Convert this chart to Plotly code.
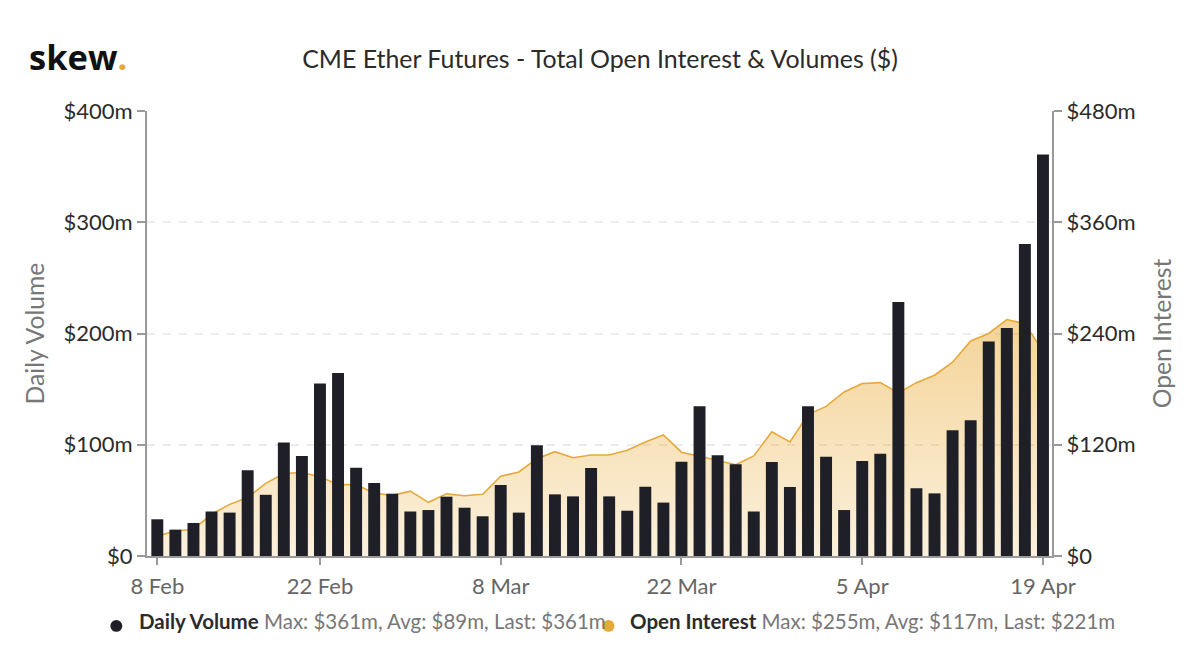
#!/usr/bin/env python3
import plotly.graph_objects as go

dates = ["8 Feb", "9 Feb", "10 Feb", "11 Feb", "12 Feb", "16 Feb", "17 Feb", "18 Feb", "19 Feb", "22 Feb",
         "23 Feb", "24 Feb", "25 Feb", "26 Feb", "1 Mar", "2 Mar", "3 Mar", "4 Mar", "5 Mar", "8 Mar",
         "9 Mar", "10 Mar", "11 Mar", "12 Mar", "15 Mar", "16 Mar", "17 Mar", "18 Mar", "19 Mar", "22 Mar",
         "23 Mar", "24 Mar", "25 Mar", "26 Mar", "29 Mar", "30 Mar", "31 Mar", "1 Apr", "2 Apr", "5 Apr",
         "6 Apr", "7 Apr", "8 Apr", "9 Apr", "12 Apr", "13 Apr", "14 Apr", "15 Apr", "16 Apr", "19 Apr"]

daily_volume = [33, 23.7, 29.7, 40, 39, 77, 55, 102, 90, 155,
                164.5, 79.4, 65.6, 56, 40, 41.3, 53.3, 43.4, 35.7, 63.8,
                39, 99.5, 55.4, 53.6, 79, 53.6, 40.7, 62.3, 48, 84.8,
                134.5, 90.5, 82.4, 40, 84.5, 62, 134.5, 89.3, 41.3, 85.4,
                92, 228.3, 61, 56.3, 113, 122, 192.7, 205, 280.5, 361]

open_interest = [21.6, 27, 28.8, 45, 55.7, 63, 78.4, 89, 90, 85.6,
                 77, 77, 67.6, 65.4, 70, 57.9, 67, 65, 66.5, 86,
                 90.6, 105, 112.5, 106, 109, 109, 114, 123, 130.5, 112,
                 107.5, 103, 98.5, 108, 134, 123, 152.5, 161.4, 177, 186,
                 187, 176, 187, 195, 209, 232, 240, 255, 250.6, 221]

x_ticks = ["8 Feb", "22 Feb", "8 Mar", "22 Mar", "5 Apr", "19 Apr"]
volume_ticks = [0, 100, 200, 300, 400]
volume_labels = ["$0", "$100m", "$200m", "$300m", "$400m"]
oi_ticks = [0, 120, 240, 360, 480]
oi_labels = ["$0", "$120m", "$240m", "$360m", "$480m"]

FONT = "Lato"
DARK = "#2B2B2B"
GREY = "#777777"
AXIS = "#999999"
ORANGE = "#E5A93A"
BAR = "#1F2027"

fig = go.Figure()

# open interest sits on the base axis so it gets drawn under the bars
fig.add_trace(go.Scatter(
    x=dates, y=open_interest, name="Open Interest", mode="lines",
    line=dict(color=ORANGE, width=1.6),
    fill="tozeroy",
    fillgradient=dict(type="vertical", colorscale=[
        [0, "rgba(232,165,40,0.16)"],
        [1, "rgba(232,165,40,0.48)"],
    ]),
    yaxis="y",
))
fig.add_trace(go.Bar(
    x=dates, y=daily_volume, name="Daily Volume",
    marker=dict(color=BAR, line=dict(width=0)),
    yaxis="y2",
))

fig.update_layout(
    width=1200, height=670,
    margin=dict(l=147, r=148, t=111, b=114, autoexpand=False),
    paper_bgcolor="white", plot_bgcolor="white",
    font=dict(family=FONT, color=DARK, size=22),
    showlegend=False,
    bargap=0.34,
    title=dict(
        text="CME Ether Futures - Total Open Interest & Volumes ($)",
        x=0.5, xanchor="center", y=0.912, yanchor="middle",
        font=dict(family=FONT, size=24.9, color=DARK),
    ),
    xaxis=dict(
        type="category", categoryorder="array", categoryarray=dates,
        range=[-0.57, 49.5],
        tickmode="array", tickvals=x_ticks, ticktext=x_ticks,
        ticks="outside", ticklen=7, tickwidth=1.5, tickcolor=AXIS,
        tickfont=dict(color="#666666", size=22),
        ticklabelstandoff=3,
        showline=True, linecolor=AXIS, linewidth=2,
        showgrid=False, zeroline=False,
    ),
    yaxis=dict(
        side="right", range=[0, 480],
        tickmode="array", tickvals=oi_ticks, ticktext=oi_labels,
        ticks="outside", ticklen=8, tickwidth=1.5, tickcolor=AXIS,
        showline=True, linecolor=AXIS, linewidth=2,
        showgrid=True, gridcolor="#EBEBEB", gridwidth=1.5, griddash="8px,8px",
        zeroline=False,
        title=dict(text="Open Interest", font=dict(color=GREY, size=24.7), standoff=19),
    ),
    yaxis2=dict(
        overlaying="y", side="left", range=[0, 400],
        tickmode="array", tickvals=volume_ticks, ticktext=volume_labels,
        ticks="outside", ticklen=8, tickwidth=1.5, tickcolor=AXIS,
        showline=True, linecolor=AXIS, linewidth=2,
        showgrid=False, zeroline=False,
        title=dict(text="Daily Volume", font=dict(color=GREY, size=24.7), standoff=12),
    ),
    annotations=[
        dict(text="<b>skew<span style='color:#E5A93A'>.</span></b>",
             xref="paper", yref="paper", x=-0.1325, y=1.122, xanchor="left", yanchor="middle",
             showarrow=False, font=dict(family="Open Sans", size=34.5, color="#111111")),
        dict(text="<b>Daily Volume</b> <span style='color:#777777'>Max: $361m, Avg: $89m, Last: $361m</span>",
             xref="paper", yref="paper", x=-0.0105, y=-0.147, xanchor="left", yanchor="middle",
             showarrow=False, font=dict(family=FONT, size=20.5, color=DARK)),
        dict(text="<b>Open Interest</b> <span style='color:#777777'>Max: $255m, Avg: $117m, Last: $221m</span>",
             xref="paper", yref="paper", x=0.5318, y=-0.147, xanchor="left", yanchor="middle",
             showarrow=False, font=dict(family=FONT, size=20.5, color=DARK)),
    ],
    shapes=[
        dict(type="circle", xref="paper", yref="paper", layer="above",
             x0=-0.0405, x1=-0.0273, y0=-0.1705, y1=-0.1437, fillcolor=BAR, line_width=0),
        dict(type="circle", xref="paper", yref="paper", layer="above",
             x0=0.5034, x1=0.5166, y0=-0.1705, y1=-0.1437, fillcolor=ORANGE, line_width=0),
    ],
)

# browser default body margin would push everything 8px in
fig.write_html("out.html", config={"displayModeBar": False},
               post_script="document.body.style.margin='0';")
